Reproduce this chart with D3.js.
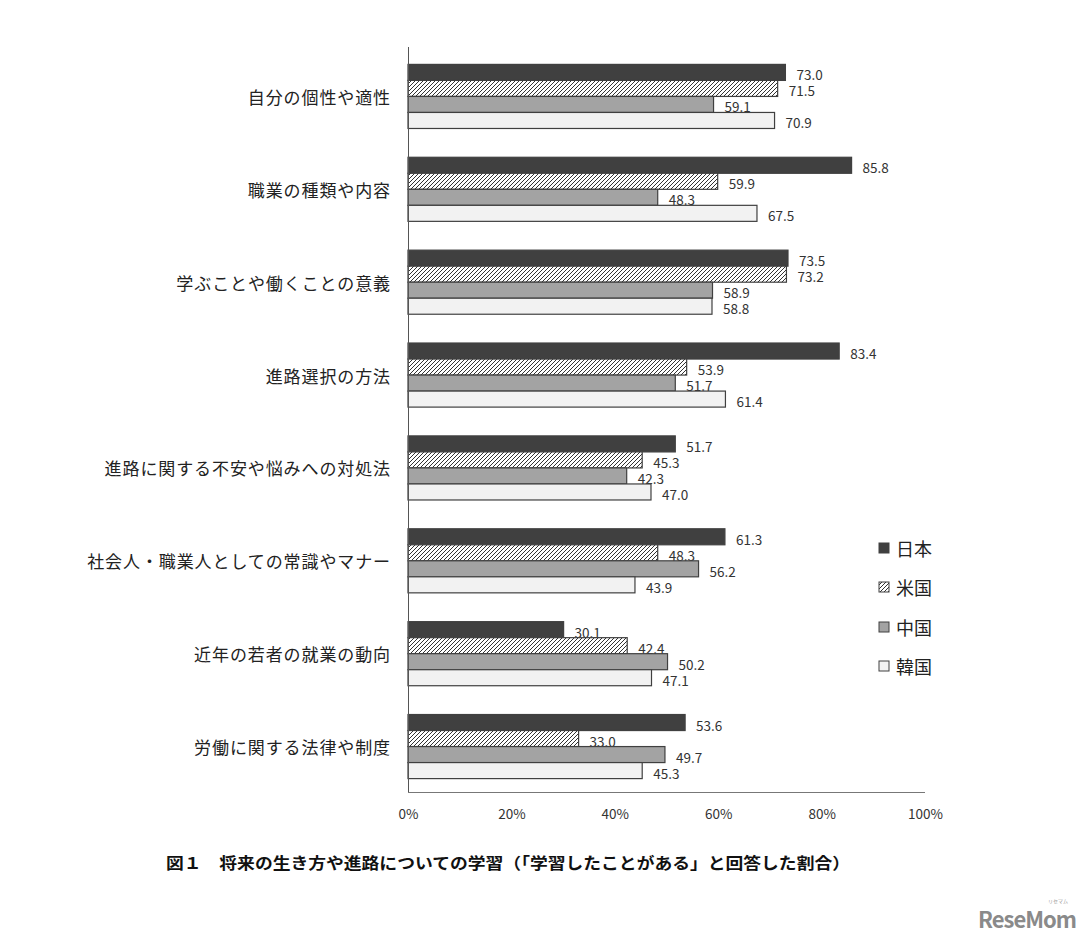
<!DOCTYPE html>
<html><head><meta charset="utf-8">
<script src="https://cdn.jsdelivr.net/npm/d3@7"></script>
<style>
html,body{margin:0;padding:0;background:#fff;}
text{font-family:"Noto Sans CJK JP","Noto Sans",sans-serif;}
</style></head>
<body><svg id="c" width="1091" height="947"></svg>
<script>
const categories = ["自分の個性や適性","職業の種類や内容","学ぶことや働くことの意義","進路選択の方法","進路に関する不安や悩みへの対処法","社会人・職業人としての常識やマナー","近年の若者の就業の動向","労働に関する法律や制度"];
const seriesNames = ["日本","米国","中国","韓国"];
const japan = [73.0,85.8,73.5,83.4,51.7,61.3,30.1,53.6];
const usa   = [71.5,59.9,73.2,53.9,45.3,48.3,42.4,33.0];
const china = [59.1,48.3,58.9,51.7,42.3,56.2,50.2,49.7];
const korea = [70.9,67.5,58.8,61.4,47.0,43.9,47.1,45.3];
const tickValues = [0,20,40,60,80,100];
const title = "図１　将来の生き方や進路についての学習（「学習したことがある」と回答した割合）";

const series = [japan, usa, china, korea];
const fills = ["#404040","url(#hatch)","#a3a3a3","#f2f2f2"];

const svg = d3.select("#c");
const defs = svg.append("defs");
const pat = defs.append("pattern").attr("id","hatch").attr("patternUnits","userSpaceOnUse")
  .attr("width",4).attr("height",4);
pat.append("rect").attr("width",4).attr("height",4).attr("fill","#fff");
pat.append("path").attr("d","M-1,1 l2,-2 M0,4 l4,-4 M3,5 l2,-2").attr("stroke","#333").attr("stroke-width",1);

const x = d3.scaleLinear().domain([0,100]).range([408,925]);
const y = d3.scaleBand().domain(categories).range([50,793]).paddingInner(0.31).paddingOuter(0.155);
const yi = d3.scaleBand().domain(d3.range(4)).range([0,y.bandwidth()]);

// bars
categories.forEach((c,ci)=>{
  series.forEach((s,si)=>{
    const v = s[ci];
    svg.append("rect").attr("x",x(0)).attr("y",y(c)+yi(si))
      .attr("width",x(v)-x(0)).attr("height",yi.bandwidth())
      .attr("fill",fills[si]).attr("stroke","#404040").attr("stroke-width",1.2);
    svg.append("text").attr("x",x(v)+11).attr("y",y(c)+yi(si)+yi.bandwidth()/2+2)
      .attr("dominant-baseline","central").attr("font-size",13.5).attr("fill","#333")
      .text(v.toFixed(1));
  });
  svg.append("text").attr("x",391).attr("y",y(c)+y.bandwidth()/2)
    .attr("text-anchor","end").attr("dominant-baseline","central")
    .attr("font-size",17).attr("letter-spacing",0.9).attr("fill","#222").text(c);
});

// axes lines
svg.append("line").attr("x1",408.5).attr("x2",408.5).attr("y1",47).attr("y2",792).attr("stroke","#555");
svg.append("line").attr("x1",408).attr("x2",925).attr("y1",792.5).attr("y2",792.5).attr("stroke","#777");

// x ticks
const xAxis = d3.axisBottom(x).tickValues(tickValues).tickFormat(d=>d+"%").tickSize(0).tickPadding(0);
const gx = svg.append("g").attr("transform","translate(0,809)").call(xAxis);
gx.select(".domain").remove();
gx.selectAll("text").attr("font-size",13.5).attr("fill","#333")
  .attr("font-family","'Noto Sans','Noto Sans CJK JP',sans-serif");

// legend
const legY = [548,587,627,666];
seriesNames.forEach((n,i)=>{
  svg.append("rect").attr("x",879).attr("y",legY[i]-5).attr("width",10).attr("height",10)
    .attr("fill",fills[i]).attr("stroke","#404040").attr("stroke-width",1);
  svg.append("text").attr("x",896).attr("y",legY[i]).attr("dominant-baseline","central")
    .attr("font-size",18).attr("fill","#222").text(n);
});

// title
svg.append("text").attr("x",166).attr("y",862).attr("dominant-baseline","central")
  .attr("font-size",16).attr("font-weight","bold").attr("fill","#111")
  .attr("textLength",684).attr("lengthAdjust","spacingAndGlyphs").text(title);

// watermark
svg.append("text").attr("x",1076).attr("y",928).attr("text-anchor","end")
  .attr("font-size",22).attr("font-weight","bold").attr("fill","#8a8a8a")
  .attr("font-family","'Open Sans','DejaVu Sans',sans-serif").attr("letter-spacing",-1).text("ReseMom");
svg.append("text").attr("x",1068).attr("y",903).attr("text-anchor","end")
  .attr("font-size",5).attr("fill","#999").text("リセマム");
</script></body></html>
